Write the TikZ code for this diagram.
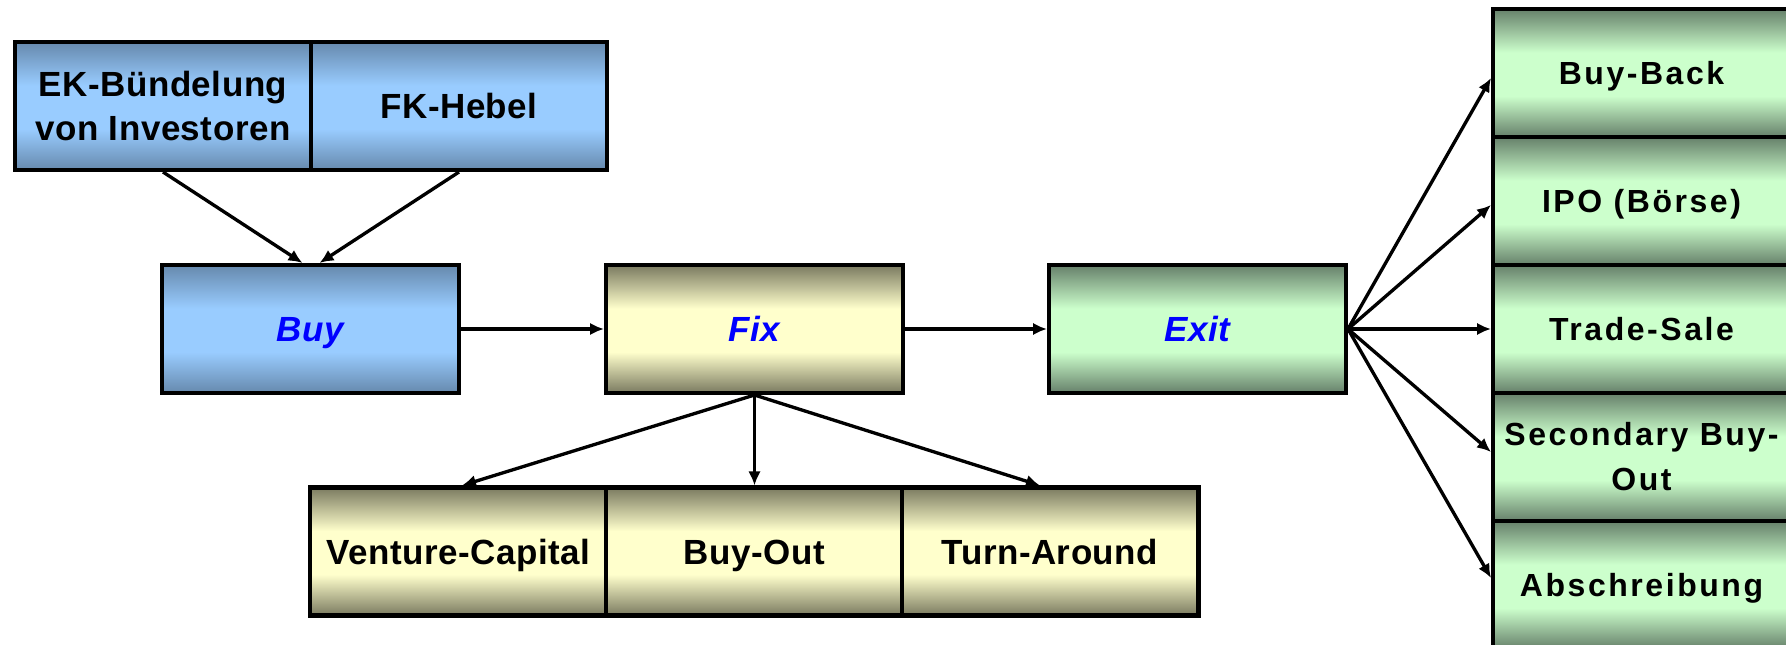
\documentclass[tikz,border=0pt]{standalone}
\usepackage{fontspec}
\setmainfont[LetterSpace=1.5]{Liberation Sans}
\newfontfamily\spacedfont[LetterSpace=8]{Liberation Sans}
\usetikzlibrary{arrows.meta,calc}
\definecolor{bdark}{HTML}{6689AD}
\definecolor{blight}{HTML}{99CCFF}
\definecolor{ydark}{HTML}{7A7A60}
\definecolor{ylight}{HTML}{FFFFCC}
\definecolor{gdark}{HTML}{66806A}
\definecolor{glight}{HTML}{CCFFCC}
\definecolor{labelblue}{HTML}{0000FF}
\pgfdeclareverticalshading{blueshade}{100bp}{color(0bp)=(bdark); color(25bp)=(bdark); color(41bp)=(blight); color(58bp)=(blight); color(75bp)=(bdark); color(100bp)=(bdark)}
\pgfdeclareverticalshading{yellowshade}{100bp}{color(0bp)=(ydark); color(25bp)=(ydark); color(41bp)=(ylight); color(58bp)=(ylight); color(75bp)=(ydark); color(100bp)=(ydark)}
\pgfdeclareverticalshading{greenshade}{100bp}{color(0bp)=(gdark); color(25bp)=(gdark); color(41bp)=(glight); color(58bp)=(glight); color(75bp)=(gdark); color(100bp)=(gdark)}
\tikzset{
  box/.style={draw=black, line width=2.3pt, minimum width=5.94cm, minimum height=2.56cm,
    inner sep=0pt, align=center,
    font=\fontsize{19.9}{24.5}\selectfont\bfseries},
  oneline/.style={text height=14.25pt, text depth=0pt},
  onelinesmall/.style={text height=13.03pt, text depth=0pt},
  bluebox/.style={box, shading=blueshade},
  yellowbox/.style={box, shading=yellowshade},
  greenbox/.style={box, shading=greenshade},
  exitbox/.style={box, shading=greenshade, font=\fontsize{18.2}{25.6}\selectfont\spacedfont\bfseries},
  phase/.style={text=labelblue, font=\fontsize{19.9}{24.5}\selectfont\bfseries\itshape},
  arr/.style={-{Latex[length=0.28cm,width=0.25cm]}, line width=1.9pt}
}
\begin{document}
\begin{tikzpicture}[x=0.02cm,y=-0.02cm]
\clip (0,0) rectangle (1786,645);
% top row
\node[bluebox] (ek) at (163,106) {EK-Bündelung\\von Investoren};
\node[bluebox, oneline] (fk) at (459,106) {FK-Hebel};
% main row
\node[bluebox, phase, oneline] (buy) at (310.5,329) {Buy};
\node[yellowbox, phase, oneline] (fix) at (754.5,329) {Fix};
\node[greenbox, phase, oneline] (exit) at (1197.5,329) {Exit};
% bottom row
\node[yellowbox, oneline] (vc) at (458.5,551.5) {Venture-Capital};
\node[yellowbox, oneline] (bo) at (754.5,551.5) {Buy-Out};
\node[yellowbox, oneline] (ta) at (1050,551.5) {Turn-Around};
% right column
\node[exitbox, onelinesmall] (bb) at (1641.5,73) {Buy-Back};
\node[exitbox, onelinesmall] (ipo) at (1641.5,201) {IPO (Börse)};
\node[exitbox, onelinesmall] (ts) at (1641.5,329) {Trade-Sale};
\node[exitbox] (sbo) at (1641.5,457) {Secondary Buy-\\Out};
\node[exitbox, onelinesmall] (ab) at (1641.5,585) {Abschreibung};
% arrows
\draw[arr] (ek.south) -- ($(buy.north)+(-8,0)$);
\draw[arr] (fk.south) -- ($(buy.north)+(9,0)$);
\draw[arr] (buy.east) -- (fix.west);
\draw[arr] (fix.east) -- (exit.west);
\draw[arr] (fix.south) -- ($(vc.north)+(3.5,0)$);
\draw[arr] (fix.south) -- (bo.north);
\draw[arr] (fix.south) -- ($(ta.north)+(-10,0)$);
\draw[arr] (exit.east) -- ($(bb.west)+(0,5)$);
\draw[arr] (exit.east) -- ($(ipo.west)+(0,4)$);
\draw[arr] (exit.east) -- (ts.west);
\draw[arr] (exit.east) -- ($(sbo.west)+(0,-5)$);
\draw[arr] (exit.east) -- ($(ab.west)+(0,-7)$);
\end{tikzpicture}
\end{document}
